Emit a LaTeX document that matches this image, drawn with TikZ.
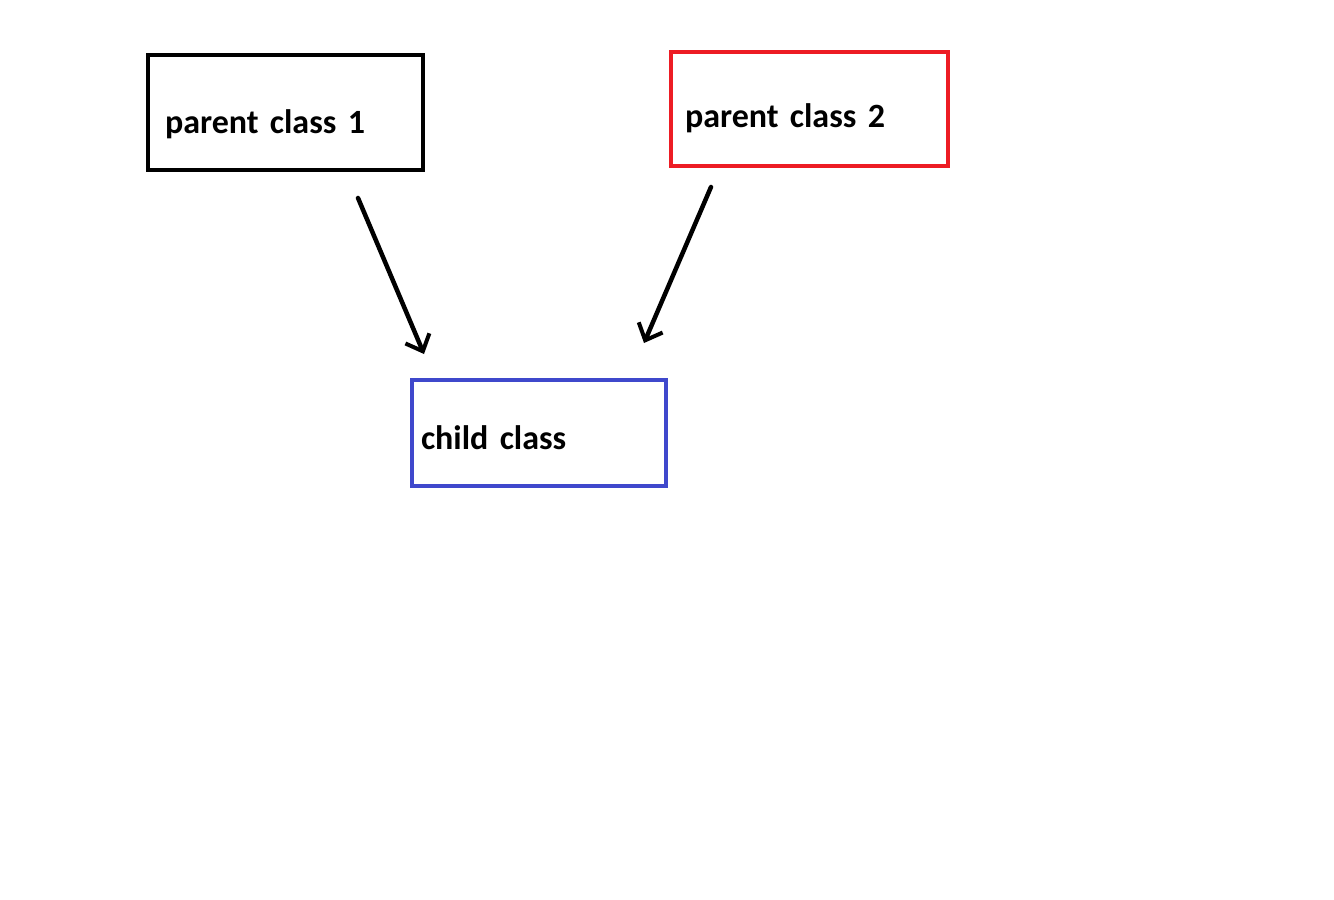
\documentclass[tikz,border=0pt]{standalone}
\usepackage{fontspec}
\setmainfont{Carlito}
\usetikzlibrary{arrows.meta}
\definecolor{paintred}{RGB}{237,28,36}
\definecolor{paintblue}{RGB}{63,72,204}
\tikzset{
  classbox/.style={draw, line width=4.5pt, rectangle, inner ysep=0pt, align=left,
    font=\fontsize{34}{40}\selectfont\bfseries, text depth=0pt},
  inherit/.style={line width=4.5pt, line cap=round,
    -{Straight Barb[length=14pt,width=26pt,line width=4pt]}},
}
\begin{document}
\begin{tikzpicture}[x=1pt,y=-1pt]
\useasboundingbox[fill=white] (0,0) rectangle (1334,900);
\node[classbox, inner xsep=17pt, text width=241pt, minimum height=115pt, text height=41pt]
  (p1) at (285.5,112.5) {parent class 1};
\node[classbox, draw=paintred, inner xsep=14pt, text width=249pt, minimum height=114pt, text height=36pt]
  (p2) at (809.5,109) {parent class 2};
\node[classbox, draw=paintblue, inner xsep=9pt, text width=236pt, minimum height=106pt, text height=32pt]
  (c) at (539,433) {child class};
\coordinate (a1s) at (358,198);
\coordinate (a1e) at (424,354);
\coordinate (a2s) at (711,187);
\coordinate (a2e) at (644,343);
\draw[inherit] (a1s) -- (a1e);
\draw[inherit] (a2s) -- (a2e);
\end{tikzpicture}
\end{document}
